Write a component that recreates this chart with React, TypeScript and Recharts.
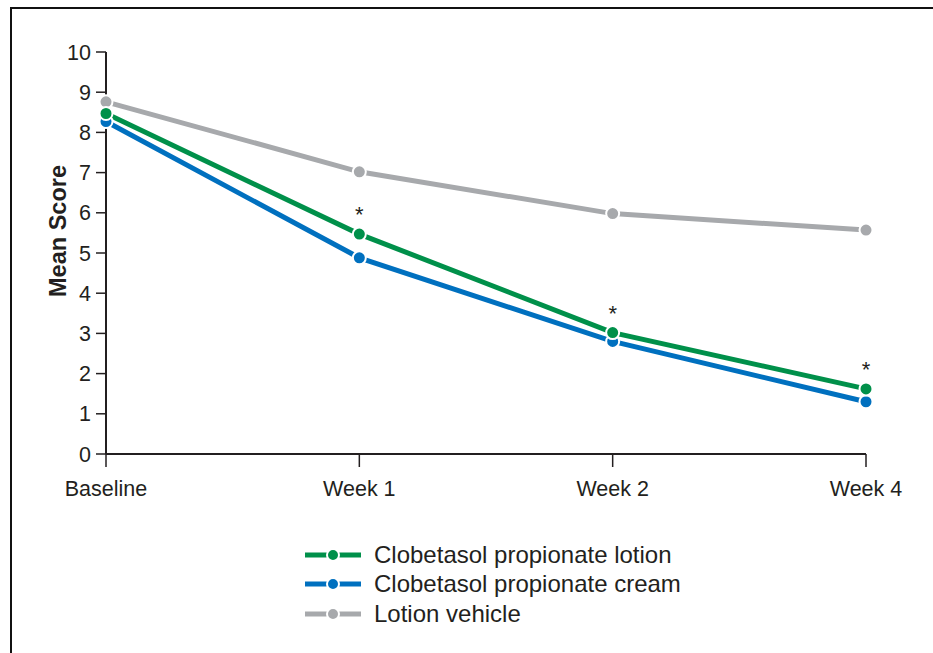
import { LineChart, Line, XAxis, YAxis, Legend, LabelList } from "recharts";

const timepoints = ["Baseline", "Week 1", "Week 2", "Week 4"];
const lotion = [8.47, 5.47, 3.02, 1.62];
const cream = [8.27, 4.88, 2.8, 1.3];
const vehicle = [8.76, 7.02, 5.98, 5.57];
const significance = ["", "*", "*", "*"];
const yTicks = [0, 1, 2, 3, 4, 5, 6, 7, 8, 9, 10];

const series = [
  { key: "lotion", name: "Clobetasol propionate lotion", color: "#00904a" },
  { key: "cream", name: "Clobetasol propionate cream", color: "#0070bf" },
  { key: "vehicle", name: "Lotion vehicle", color: "#a7a9ac" },
];

const data = timepoints.map((t, i) => ({
  name: t,
  lotion: lotion[i],
  cream: cream[i],
  vehicle: vehicle[i],
  sig: significance[i],
}));

const font = "'Liberation Sans', Arial, sans-serif";
const ink = "#231f20";

function LegendBox() {
  return (
    <div style={{ fontFamily: font }}>
      {series.map((s) => (
        <div key={s.key} style={{ display: "flex", alignItems: "center", height: 29.5 }}>
          <svg width={60} height={16} style={{ marginRight: 10 }}>
            <line x1={1} y1={8} x2={57} y2={8} stroke={s.color} strokeWidth={5} />
            <circle cx={29} cy={8} r={6} fill={s.color} stroke="#fff" strokeWidth={2} />
          </svg>
          <span style={{ fontSize: 24, color: ink }}>{s.name}</span>
        </div>
      ))}
    </div>
  );
}

function Star(props: any) {
  const { x, y, value } = props;
  if (!value) return null;
  return (
    <text x={x} y={y - 12} textAnchor="middle" fontSize={22} fill={ink} fontFamily={font}>
      {value}
    </text>
  );
}

export default function App() {
  return (
    <div style={{ position: "relative", width: 933, height: 653, background: "#fff", overflow: "hidden" }}>
      <style>{"body{margin:0}"}</style>
      <div
        style={{
          position: "absolute",
          left: 10,
          top: 7,
          width: 1000,
          height: 700,
          borderTop: "2px solid #111",
          borderLeft: "2px solid #111",
        }}
      />
      <LineChart
        width={933}
        height={653}
        data={data}
        margin={{ top: 52, right: 67, left: 46, bottom: 149 }}
        style={{ position: "absolute", left: 0, top: 0 }}
      >
        <XAxis
          dataKey="name"
          axisLine={{ stroke: ink, strokeWidth: 2 }}
          tickLine={{ stroke: ink, strokeWidth: 1.5 }}
          tickSize={13}
          tick={{ fill: ink, fontSize: 21.5, fontFamily: font }}
          tickMargin={14}
          height={50}
          interval={0}
        />
        <YAxis
          domain={[0, 10]}
          ticks={yTicks}
          width={60}
          axisLine={{ stroke: ink, strokeWidth: 2 }}
          tickLine={{ stroke: ink, strokeWidth: 1.5 }}
          tickSize={10}
          tick={{ fill: ink, fontSize: 21.5, fontFamily: font }}
          tickMargin={5}
          interval={0}
          label={{
            content: (p: any) => {
              const vb = p.viewBox;
              const cx = vb.x + 12;
              const cy = vb.y + vb.height / 2 - 22;
              return (
                <text
                  x={cx}
                  y={cy}
                  transform={`rotate(-90 ${cx} ${cy})`}
                  textAnchor="middle"
                  dominantBaseline="central"
                  fontSize={23.5}
                  fontWeight="bold"
                  fill={ink}
                  fontFamily={font}
                >
                  Mean Score
                </text>
              );
            },
          }}
        />
        <Legend
          layout="vertical"
          align="center"
          verticalAlign="middle"
          content={() => <LegendBox />}
          wrapperStyle={{ position: "absolute", left: 304, top: 540, width: 420, bottom: "auto" }}
        />
        {[...series].reverse().map((s) => (
          <Line
            key={s.key}
            dataKey={s.key}
            name={s.name}
            stroke={s.color}
            strokeWidth={5}
            dot={{ r: 6.5, fill: s.color, stroke: "#fff", strokeWidth: 2 }}
            activeDot={false}
            isAnimationActive={false}
          >
            {s.key === "lotion" ? <LabelList dataKey="sig" content={<Star />} /> : null}
          </Line>
        ))}
      </LineChart>
    </div>
  );
}
